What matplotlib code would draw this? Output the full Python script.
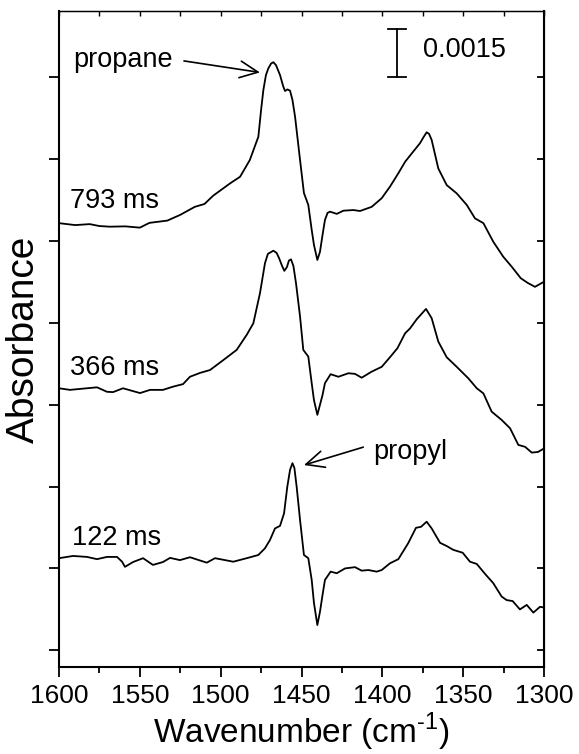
import numpy as np
import matplotlib
matplotlib.use("Agg")
import matplotlib.pyplot as plt

plt.rcParams['font.family'] = ['Liberation Sans', 'DejaVu Sans']
plt.rcParams['mathtext.fontset'] = 'custom'
plt.rcParams['mathtext.rm'] = 'Liberation Sans'

# absorbance traces (in units of 0.001, already offset for stacking)
wn_793 = [1600, 1590, 1581, 1575, 1568.5, 1559, 1550, 1544, 1533, 1525, 1516, 1510,
          1504.6, 1494, 1488, 1482, 1476.7, 1475.0, 1473.6, 1472.0, 1470.5, 1468.8,
          1467.4, 1465.8, 1463.3, 1461.4, 1460.2, 1458.7, 1457.1, 1455.6, 1454, 1450.9,
          1448.5, 1445.8, 1443.7, 1442.3, 1440.2, 1438.6, 1437.0, 1435.5, 1433.9, 1432.4,
          1428.2, 1424.1, 1417.9, 1413.8, 1406.6, 1400.4, 1395.3, 1390.1, 1385.9, 1381.8,
          1376.7, 1374.5, 1372.6, 1371.1, 1369.5, 1365.4, 1360.2, 1354, 1347.8, 1342.7,
          1337.5, 1331.4, 1325.2, 1320, 1314.4, 1310, 1305.6, 1300]
abs_793 = [13.87, 13.81, 13.84, 13.78, 13.76, 13.77, 13.73, 13.88, 13.95, 14.13, 14.38, 14.47,
           14.73, 15.12, 15.32, 15.84, 16.57, 17.41, 18.03, 18.5, 18.71, 18.86,
           18.90, 18.81, 18.5, 18.16, 18.0, 18.05, 18.01, 17.72, 17.2, 15.84,
           14.81, 14.44, 13.66, 13.19, 12.72, 12.97, 13.5, 13.97, 14.19, 14.23,
           14.16, 14.26, 14.28, 14.25, 14.38, 14.65, 15.01, 15.43, 15.79, 16.05,
           16.37, 16.56, 16.71, 16.66, 16.47, 15.58, 15.06, 14.80, 14.44, 14.02,
           13.87, 13.29, 12.82, 12.51, 12.15, 12.0, 11.88, 12.04]

wn_366 = [1600, 1593.2, 1587, 1576.5, 1570.3, 1566.6, 1560.4, 1549.9, 1543.7, 1535.7, 1529.5,
          1523.3, 1519, 1512.8, 1506.6, 1498.4, 1490.1, 1483.9, 1479.8, 1475.7, 1472.6,
          1470.8, 1467.4, 1465.4, 1463.9, 1462.0, 1460.6, 1459.0, 1457.8, 1456.5, 1455.0,
          1453.4, 1450.9, 1448.9, 1445.8, 1443.7, 1442.3, 1440.2, 1438.6, 1437.0, 1435.5,
          1432, 1427.2, 1421, 1416.9, 1412.8, 1406.6, 1400.4, 1395.3, 1390.7, 1385.9,
          1382.9, 1378.7, 1373, 1369.5, 1365.4, 1360.2, 1354, 1346.8, 1341.6, 1337.5,
          1332.4, 1326.2, 1321, 1315.9, 1311.7, 1307.6, 1303.7, 1300]
abs_366 = [8.71, 8.66, 8.69, 8.74, 8.60, 8.59, 8.71, 8.56, 8.66, 8.66, 8.76,
           8.84, 9.07, 9.19, 9.28, 9.59, 9.91, 10.38, 10.74, 11.68, 12.62,
           12.91, 13.01, 12.94, 12.78, 12.53, 12.38, 12.5, 12.70, 12.74, 12.53,
           11.99, 10.95, 9.91, 9.70, 8.87, 8.34, 7.88, 8.19, 8.5, 8.87,
           9.15, 9.07, 9.18, 9.16, 9.04, 9.23, 9.38, 9.68, 9.96, 10.43,
           10.58, 10.87, 11.19, 10.90, 10.17, 9.68, 9.38, 9.02, 8.71, 8.55,
           7.98, 7.72, 7.46, 6.94, 6.88, 6.70, 6.72, 6.83]

wn_122 = [1600, 1591.3, 1582.7, 1576.5, 1570.3, 1564.1, 1561, 1559.2, 1554.2, 1548, 1541.9,
          1535.7, 1531.3, 1525.2, 1519, 1508.6, 1503.5, 1492.2, 1483.9, 1476.7, 1472.6,
          1469.5, 1466.4, 1463.3, 1460.8, 1458.8, 1457.1, 1455.6, 1454.4, 1453, 1450.9,
          1448.5, 1445.8, 1443.7, 1442.3, 1440.2, 1438.6, 1437.0, 1435.5, 1432, 1428.2,
          1423.1, 1416.9, 1412.8, 1408.7, 1403.5, 1400.4, 1395.3, 1390.1, 1384, 1379.2,
          1376.1, 1372.6, 1369.5, 1364.3, 1360.2, 1356.1, 1350.3, 1345.8, 1341.6, 1336.5,
          1331.4, 1326.2, 1323.1, 1319.4, 1314.9, 1310.7, 1306.6, 1302.5, 1300]
abs_122 = [3.40, 3.47, 3.44, 3.37, 3.44, 3.44, 3.29, 3.13, 3.28, 3.40, 3.19,
           3.28, 3.41, 3.34, 3.43, 3.26, 3.40, 3.29, 3.40, 3.50, 3.71,
           3.97, 4.33, 4.41, 4.80, 5.63, 6.16, 6.37, 6.22, 5.63, 4.59,
           3.50, 3.40, 2.72, 2.0, 1.31, 1.72, 2.25, 2.72, 2.98, 2.93,
           3.08, 3.12, 3.01, 3.03, 2.98, 3.03, 3.24, 3.37, 3.87, 4.35,
           4.38, 4.54, 4.33, 3.88, 3.78, 3.66, 3.57, 3.29, 3.22, 2.91,
           2.62, 2.20, 2.09, 2.06, 1.80, 1.94, 1.70, 1.88, 1.86]

y_ticks = [0.53, 3.08, 5.64, 8.2, 10.76, 13.32, 15.88, 18.44]

fig = plt.figure(figsize=(5.79, 7.54), dpi=100)
ax = fig.add_axes([0.1019, 0.1154, 0.8377, 0.8700])

for w, a in [(wn_793, abs_793), (wn_366, abs_366), (wn_122, abs_122)]:
    ax.plot(w, a, color='black', lw=1.3, solid_joinstyle='round')

ax.set_xlim(1600, 1300)
ax.set_ylim(0, 20.5)
ax.set_xticks(np.arange(1600, 1299, -50))
ax.set_xticks(np.arange(1575, 1300, -50), minor=True)
ax.set_yticks(y_ticks)
ax.set_yticklabels([])
ax.tick_params(axis='x', which='major', direction='out', length=7, width=1.3,
               labelsize=19, pad=5)
ax.tick_params(axis='x', which='minor', direction='out', length=4.5, width=1.3)
ax.tick_params(axis='y', which='major', direction='out', length=7, width=1.3)
for s in ax.spines.values():
    s.set_linewidth(1.5)
ax.spines['top'].set_linewidth(1.0)

top = ax.secondary_xaxis('top')
top.set_xticks(np.arange(1600, 1299, -25))
top.tick_params(direction='in', length=3.5, width=1.0, labeltop=False)
right = ax.secondary_yaxis('right')
right.set_yticks(y_ticks)
right.tick_params(direction='in', length=5, width=1.3, labelright=False)

ax.set_xlabel('Wavenumber (cm$^{\\text{-1}}$)', fontsize=24, labelpad=2)
ax.set_ylabel('Absorbance', fontsize=28, labelpad=2)

fs = 19.5
ax.text(1593.2, 14.34, '793 ms', fontsize=fs, va='baseline')
ax.text(1593.2, 9.125, '366 ms', fontsize=fs, va='baseline')
ax.text(1592, 3.81, '122 ms', fontsize=fs, va='baseline')
ax.text(1591.3, 18.75, 'propane', fontsize=fs, va='baseline')
ax.text(1405.8, 6.51, 'propyl', fontsize=fs, va='baseline')
ax.annotate('', xy=(1475.7, 18.58), xytext=(1522.7, 18.94),
            arrowprops=dict(arrowstyle='->,head_length=0.65,head_width=0.3',
                            mutation_scale=20, shrinkA=0, shrinkB=0, lw=1.2))
ax.annotate('', xy=(1448.5, 6.31), xytext=(1411.8, 6.87),
            arrowprops=dict(arrowstyle='->,head_length=0.65,head_width=0.3',
                            mutation_scale=20, shrinkA=0, shrinkB=0, lw=1.2))

# scale bar 0.0015
ax.plot([1390.7, 1390.7], [18.43, 19.93], color='black', lw=1.3)
ax.plot([1396.3, 1385.3], [18.43, 18.43], color='black', lw=1.3)
ax.plot([1396.3, 1385.3], [19.93, 19.93], color='black', lw=1.3)
ax.text(1375, 19.07, '0.0015', fontsize=fs, va='baseline')

fig.savefig('out.png', dpi=100)
